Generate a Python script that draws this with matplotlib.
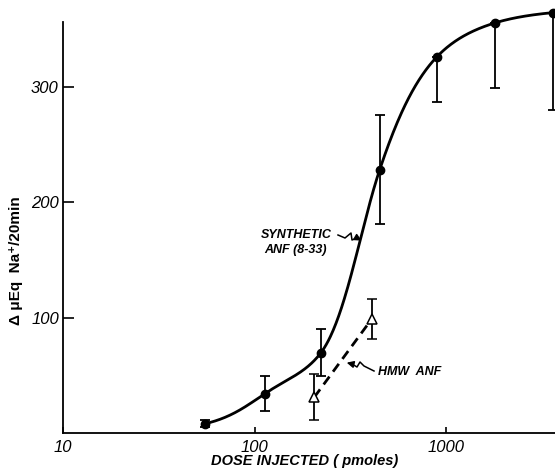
import numpy as np
import matplotlib
matplotlib.use("Agg")
import matplotlib.pyplot as plt
from matplotlib.lines import Line2D

# ---- data ----
syn_dose = [55, 113, 222, 450, 898, 1790, 3610]
syn_resp = [8, 34, 69.5, 228, 326, 355, 364]
syn_err_lo = [3, 15, 20.5, 47, 39, 56, 84]
syn_err_hi = [3, 15, 20.5, 47, 0, 0, 0]

hmw_dose = [205, 408]
hmw_resp = [31, 98.5]
hmw_err = [20, 17.5]

x_ticks = [10, 100, 1000]
x_ticklabels = ["10", "100", "1000"]
y_ticks = [100, 200, 300]
y_ticklabels = ["100", "200", "300"]


def pchip_curve(x, y, xn):
    x = np.asarray(x, float); y = np.asarray(y, float)
    h = np.diff(x); d = np.diff(y) / h; m = np.zeros_like(y)
    for k in range(1, len(x) - 1):
        if d[k - 1] * d[k] > 0:
            w1 = 2 * h[k] + h[k - 1]; w2 = h[k] + 2 * h[k - 1]
            m[k] = (w1 + w2) / (w1 / d[k - 1] + w2 / d[k])
    m[0] = d[0]; m[-1] = d[-1]
    out = np.empty_like(xn)
    for i, xv in enumerate(xn):
        k = min(max(np.searchsorted(x, xv) - 1, 0), len(x) - 2)
        t = (xv - x[k]) / h[k]
        out[i] = ((2 * t**3 - 3 * t**2 + 1) * y[k] + (t**3 - 2 * t**2 + t) * h[k] * m[k]
                  + (-2 * t**3 + 3 * t**2) * y[k + 1] + (t**3 - t**2) * h[k] * m[k + 1])
    return out


W, H = 555, 474
fig = plt.figure(figsize=(W / 100, H / 100), dpi=100)
ax = fig.add_axes([63 / W, 41 / H, 492 / W, (433 - 8) / H])

tick_font = dict(family=["Liberation Sans", "DejaVu Sans"], style="italic", size=12)

# smooth sigmoid through the synthetic points: monotone spline in log-dose / logit space
ymax = 368.0
u = np.log10(syn_dose)
yv = np.asarray(syn_resp, float)
z = np.log(yv / (ymax - yv))
un = np.linspace(u[0], u[-1], 500)
zn = pchip_curve(u, z, un)
ax.plot(10**un, ymax / (1 + np.exp(-zn)), color="black", lw=2.0, clip_on=False, zorder=3)

ax.errorbar(syn_dose, syn_resp, yerr=[syn_err_lo, syn_err_hi], fmt="o", color="black",
            ms=6, elinewidth=1.3, capsize=3.5, capthick=1.3, clip_on=False, zorder=4)

ax.plot(hmw_dose, hmw_resp, color="black", lw=2.0, ls=(0, (3.5, 2.2)), zorder=3)
ax.errorbar(hmw_dose, hmw_resp, yerr=hmw_err, fmt="^", color="black", mfc="white",
            mec="black", ms=6.5, mew=1.1, elinewidth=1.3, capsize=3.5, capthick=1.3, zorder=4)

ax.set_xscale("log")
ax.set_xlim(10, 3700)
ax.set_ylim(0, 368)
ax.spines["top"].set_visible(False)
ax.spines["right"].set_visible(False)
ax.spines["left"].set_bounds(0, 356)
ax.spines["left"].set_linewidth(1.3)
ax.spines["bottom"].set_linewidth(1.3)

ax.set_xticks(x_ticks)
ax.set_xticklabels(x_ticklabels, **tick_font)
ax.set_yticks(y_ticks)
ax.set_yticklabels(y_ticklabels, **tick_font)
ax.xaxis.set_minor_locator(matplotlib.ticker.NullLocator())
ax.tick_params(axis="x", direction="in", length=4, width=1.2, pad=5)
ax.tick_params(axis="y", direction="in", length=8, width=1.2, pad=3)

fig.text(305 / W, 1 - 461 / H, "DOSE INJECTED ( pmoles)", ha="center", va="center",
         family=["Liberation Sans", "DejaVu Sans"], style="italic", weight="bold", size=10.5)
fig.text(16 / W, 1 - 261 / H, "Δ μEq  Na⁺/20min", ha="center", va="center", rotation=90,
         family=["Liberation Sans", "DejaVu Sans"], weight="bold", size=11)

ann_font = dict(family=["Liberation Sans", "DejaVu Sans"], style="italic", weight="bold", size=9)
fig.text(296 / W, 1 - 235 / H, "SYNTHETIC", ha="center", va="center", **ann_font)
fig.text(296 / W, 1 - 250 / H, "ANF (8-33)", ha="center", va="center", **ann_font)
fig.text(410 / W, 1 - 372 / H, "HMW  ANF", ha="center", va="center", **ann_font)


def squiggle(pts):
    xs_ = [p[0] / W for p in pts]
    ys_ = [1 - p[1] / H for p in pts]
    fig.add_artist(Line2D(xs_[:-1], ys_[:-1], transform=fig.transFigure, color="black", lw=1.1))
    fig.add_artist(matplotlib.patches.FancyArrowPatch(
        (xs_[-2], ys_[-2]), (xs_[-1], ys_[-1]), transform=fig.transFigure,
        arrowstyle="-|>,head_length=4,head_width=2", color="black", lw=1.1, mutation_scale=1))


squiggle([(338, 235), (345, 238), (351, 233), (352, 240), (357, 238), (364, 242)])
squiggle([(374, 371), (364, 366), (360, 362), (357, 367), (352, 364), (344, 362)])

fig.savefig("out.png", dpi=100)
